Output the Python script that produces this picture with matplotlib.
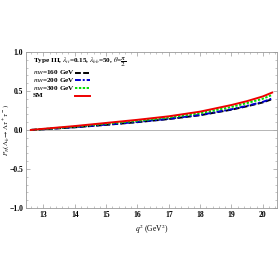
import matplotlib.pyplot as plt
from matplotlib.ticker import MultipleLocator

plt.rcParams['font.family'] = ['Liberation Serif', 'DejaVu Serif']
plt.rcParams['mathtext.fontset'] = 'stix'

# q^2 sample points (GeV^2) and polarization values
q2 = [12.6, 13.0, 14.0, 15.0, 16.0, 17.0, 18.0, 19.0, 19.5, 20.0, 20.3]
p_sm = [0.0, 0.015, 0.05, 0.09, 0.13, 0.175, 0.235, 0.32, 0.37, 0.43, 0.48]
p_300 = [0.0, 0.012, 0.043, 0.08, 0.117, 0.16, 0.215, 0.295, 0.345, 0.40, 0.45]
p_200 = [0.0, 0.010, 0.036, 0.068, 0.103, 0.143, 0.193, 0.265, 0.31, 0.36, 0.405]
p_160 = [0.0, 0.009, 0.034, 0.065, 0.10, 0.14, 0.189, 0.26, 0.304, 0.353, 0.395]

series = [
    (r'$m_{H}$=160 GeV', p_160, 'black', (0, (3, 1.2))),
    (r'$m_{H}$=200 GeV', p_200, '#0000cc', (0, (3, 1, 1, 1))),
    (r'$m_{H}$=300 GeV', p_300, '#00dd00', (0, (1.2, 0.8))),
    ('SM', p_sm, '#ee0000', '-'),
]
title = r'Type III, $\lambda_{tt}$=0.15, $\lambda_{bb}$=50, $\theta$=$\dfrac{\pi}{2}$'

fig = plt.figure(figsize=(2.78, 2.78), dpi=100)
ax = fig.add_axes([0.094, 0.252, 0.902, 0.561])

ax.axhline(0, color='#aaaaaa', lw=0.6)
for label, vals, col, ls in series:
    ax.plot(q2, vals, color=col, ls=ls, lw=1.4)

ax.set_xlim(12.45, 20.45)
ax.set_ylim(-1.0, 1.0)
ax.xaxis.set_major_locator(MultipleLocator(1))
ax.xaxis.set_minor_locator(MultipleLocator(0.2))
ax.yaxis.set_minor_locator(MultipleLocator(0.1))
ax.tick_params(which='both', direction='in', top=True, right=True,
               color='#999999', labelsize=5.5, pad=2)
ax.tick_params(which='major', length=3, width=0.5)
ax.tick_params(which='minor', length=1.6, width=0.4)
ax.set_yticks([-1.0, -0.5, 0.0, 0.5, 1.0])
ax.set_yticklabels(['\u22121.0', '\u22120.5', '0.0', '0.5', '1.0'], fontweight='bold')
for t in ax.get_xticklabels():
    t.set_fontweight('bold')
for s in ax.spines.values():
    s.set_color('#999999')
    s.set_linewidth(0.6)

ax.set_xlabel(r'$q^2$ (GeV$^2$)', fontsize=5.5, labelpad=3)
ax.set_ylabel(r'$P_N(\Lambda_b\rightarrow\Lambda\tau^+\tau^-)$', fontsize=5)
ax.yaxis.set_label_coords(-0.062, 0.5)

# legend drawn by hand: label text first, line sample after it
fs = 5.2
ax.text(0.028, 0.935, title, transform=ax.transAxes, fontsize=fs,
        fontweight='bold', va='center', ha='left')
rows = [0.868, 0.818, 0.768, 0.72]
for (label, vals, col, ls), yy in zip(series, rows):
    ax.text(0.028, yy, label, transform=ax.transAxes, fontsize=fs,
            fontweight='bold', va='center', ha='left')
    ax.plot([0.195, 0.255], [yy, yy], transform=ax.transAxes,
            color=col, ls=ls, lw=1.4)

fig.savefig('out.png', dpi=100)
